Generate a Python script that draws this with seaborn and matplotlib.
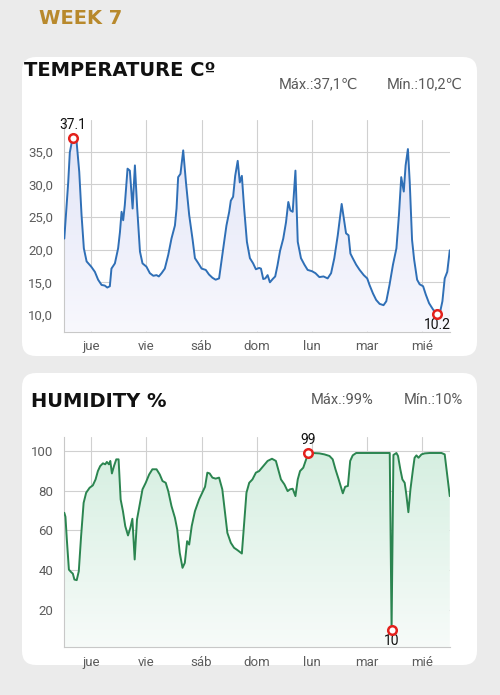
import numpy as np
import seaborn as sns
import matplotlib.pyplot as plt
import matplotlib.colors as mcolors
from matplotlib.patches import FancyBboxPatch, Polygon

# hours counted from thursday 00:00
temp_hours = [-11.7, -11, -10, -9.3, -8.1, -7.3, -6.4, -5.2, -4.2, -3.2, -2, 0, 1.6, 3, 4.5, 5.9, 7, 8.1,
              8.8, 10.3, 11.7, 12.5, 13.2, 13.9, 14.6, 15.8, 16.8, 18, 19, 20, 21.2, 22.3, 24, 25.5, 27,
              28.4, 29.4, 30.6, 32, 33.5, 34.9, 36.4, 37.1, 37.8, 38.8, 40, 41.2, 42.6, 44.1, 45.1, 46.6,
              48, 49.8, 51.2, 52.7, 54.1, 55.6, 56.8, 57.8, 58.8, 60, 60.7, 61.7, 62.6, 63.7, 64.6, 65.5,
              66.5, 67.7, 69, 70.4, 71.6, 73, 73.8, 74.8, 75.7, 76.7, 77.7, 78.9, 80, 81, 82.1, 83.5, 84.7,
              85.7, 86.6, 87.6, 88.8, 89.8, 91.2, 92.7, 94.1, 96, 97.5, 99.2, 101, 102.8, 104.3, 105.7,
              107.2, 108.9, 110.1, 110.8, 111.9, 112.7, 113.7, 115.2, 116.7, 118.5, 120, 121, 122.5,
              123.9, 125.4, 127.1, 128.3, 129.7, 131.2, 132.7, 133.8, 134.8, 135.9, 136.7, 137.7, 138.5,
              139.5, 140.4, 141.7, 142.8, 144.3, 145.5, 146.9, 148.7, 150.4, 151.6, 152.7, 153.7, 154.8,
              155.9]
temp_values = [21.7, 25.3, 30.3, 34.9, 37.1, 37.0, 36.7, 31.9, 25.3, 20.2, 18.2, 17.4, 16.6, 15.4, 14.6,
               14.5, 14.2, 14.4, 17.1, 17.9, 20.2, 22.7, 25.8, 24.5, 26.8, 32.4, 32.1, 26.3, 32.9, 26.3,
               19.7, 17.9, 17.4, 16.4, 16.0, 16.1, 15.9, 16.4, 17.1, 19.2, 21.7, 23.7, 26.3, 31.1, 31.6,
               35.2, 30.3, 25.3, 21.5, 18.7, 17.9, 17.1, 16.9, 16.2, 15.7, 15.4, 15.6, 18.7, 21.2, 23.7,
               25.8, 27.5, 28.1, 31.3, 33.6, 30.3, 31.3, 26.3, 21.2, 18.7, 17.9, 17.0, 17.2, 17.1, 15.5,
               15.6, 16.1, 15.0, 15.5, 15.9, 17.6, 19.8, 21.7, 24.2, 27.3, 26.0, 25.8, 32.1, 21.2, 18.7,
               17.7, 16.9, 16.7, 16.4, 15.8, 15.9, 15.6, 16.4, 18.7, 22.2, 27.0, 24.2, 22.5, 22.2, 19.4,
               18.7, 17.7, 16.9, 16.1, 15.6, 14.6, 13.3, 12.3, 11.7, 11.5, 12.1, 14.6, 17.7, 20.2, 25.3,
               31.1, 28.9, 32.9, 35.4, 30.3, 21.5, 18.5, 15.4, 14.7, 14.4, 13.1, 11.8, 10.8, 10.2, 10.3,
               12.1, 15.6, 16.6, 19.9]

hum_hours = [-11.7, -11.2, -10.6, -9.7, -8.7, -8.0, -7.3, -6.3, -5.4, -4.4, -3.3, -2.2, -0.7, 0.7, 1.9,
             2.9, 3.9, 5.1, 6.1, 6.8, 7.7, 8.3, 9.0, 9.9, 10.9, 11.9, 12.8, 13.8, 14.8, 16.0, 17.0, 17.9,
             18.9, 19.9, 21.1, 22.3, 23.7, 25.2, 26.6, 28.4, 29.8, 31.0, 32.4, 33.5, 34.9, 36.4, 37.4,
             38.5, 39.7, 40.7, 41.7, 42.6, 43.7, 45.1, 46.9, 48.3, 49.5, 50.5, 51.5, 52.7, 54.1, 55.6,
             57.0, 58.2, 59.2, 60.7, 62.1, 63.6, 65.5, 66.5, 67.5, 68.7, 70.1, 71.6, 73.0, 74.8, 76.7,
             78.6, 80.3, 81.5, 82.5, 84.0, 85.4, 86.4, 87.6, 88.8, 89.8, 90.8, 92.2, 93.7, 94.4, 96.3,
             99.2, 101.4, 103.6, 105.0, 106.2, 107.6, 108.7, 109.4, 110.4, 111.6, 112.6, 113.7, 115.2,
             121.0, 129.8, 130.6, 131.4, 132.7, 133.4, 134.4, 135.3, 136.3, 137.0, 137.9, 138.8, 139.9,
             140.6, 141.4, 142.3, 143.6, 145.0, 147.2, 152.3, 153.7, 154.5, 155.9]
hum_values = [68.9, 66.9, 55.5, 40.3, 39.0, 38.3, 35.3, 35.0, 39.5, 57.1, 73.9, 79.0, 81.5, 82.7, 85.7,
              89.9, 92.4, 93.8, 93.3, 94.5, 93.3, 95.0, 88.7, 92.4, 95.8, 95.8, 75.6, 69.7, 62.2, 57.5,
              61.3, 65.9, 45.4, 65.5, 73.1, 80.7, 84.0, 88.2, 90.8, 90.8, 88.2, 84.9, 84.0, 79.8, 72.3,
              66.4, 60.5, 48.7, 41.2, 43.7, 54.6, 52.9, 62.2, 69.7, 75.6, 79.0, 82.0, 89.1, 88.7, 86.6,
              86.1, 86.6, 80.7, 68.9, 58.8, 53.8, 51.3, 50.1, 48.4, 63.9, 79.0, 84.0, 85.7, 89.1, 89.9,
              92.4, 95.0, 96.1, 95.0, 89.9, 85.7, 83.2, 79.8, 80.7, 81.0, 77.3, 85.7, 89.9, 91.6, 96.6,
              99, 99, 98.8, 98.3, 97.5, 95.8, 90.8, 85.7, 81.5, 78.7, 82.0, 82.4, 95.0, 97.8, 99, 99, 99,
              10, 98, 99, 97.5, 90.8, 85.7, 84.0, 78.2, 69.2, 80.7, 90.8, 96.6, 97.8, 96.6, 98.3, 98.8,
              99, 99, 98.3, 90.8, 77.3]

day_labels = ['jue', 'vie', 'sáb', 'dom', 'lun', 'mar', 'mié']
temp_ticks = [10, 15, 20, 25, 30, 35]
hum_ticks = [20, 40, 60, 80, 100]

W, H = 500, 695
sns.set_theme(style='white')
plt.rcParams['font.family'] = ['Roboto', 'DejaVu Sans']

fig = plt.figure(figsize=(W / 100, H / 100), dpi=100)
fig.patch.set_facecolor('#ebebeb')


def px(x, y):
    return x / W, 1 - y / H


# white cards behind the axes
for (x0, y0, x1, y1) in [(22, 57, 477, 356), (22, 373, 477, 665)]:
    card = FancyBboxPatch((x0, H - y1), x1 - x0, y1 - y0, boxstyle='round,pad=0,rounding_size=14',
                          transform=None, facecolor='white', edgecolor='none', zorder=-10)
    fig.patches.append(card)


def gradient_fill(ax, x, y, top, bottom, y0):
    ymax = max(y)
    ct = np.array(mcolors.to_rgba(top))
    cb = np.array(mcolors.to_rgba(bottom))
    t = np.linspace(0, 1, 200)[:, None]
    img = (cb + (ct - cb) * t)[:, None, :]
    im = ax.imshow(img, extent=[x[0], x[-1], y0, ymax], origin='lower', aspect='auto', zorder=1)
    verts = np.vstack([[x[0], y0], np.column_stack([x, y]), [x[-1], y0]])
    clip = Polygon(verts, closed=True, facecolor='none', edgecolor='none')
    ax.add_patch(clip)
    im.set_clip_path(clip)


def draw_panel(rect, hours, values, ylim, yticks, fmt, line_color, top_c, bot_c, lab_fmt):
    ax = fig.add_axes(rect, zorder=2)
    ax.set_facecolor('none')
    gradient_fill(ax, hours, values, top_c, bot_c, ylim[0])
    sns.lineplot(x=hours, y=values, ax=ax, color=line_color, lw=1.4, zorder=3)
    i_max = int(np.argmax(values))
    i_min = int(np.argmin(values))
    sns.scatterplot(x=[hours[i_max], hours[i_min]], y=[values[i_max], values[i_min]], ax=ax, s=38,
                    color='white', edgecolor='#e3211c', linewidth=1.8, zorder=5)
    ax.annotate(lab_fmt(values[i_max]), (hours[i_max], values[i_max]), xytext=(0, 9),
                textcoords='offset points', ha='center', va='center', fontsize=10, color='#111')
    ax.annotate(lab_fmt(values[i_min]), (hours[i_min], values[i_min]), xytext=(0, -8),
                textcoords='offset points', ha='center', va='center', fontsize=10, color='#111')
    ax.set_xlim(-11.7, 156)
    ax.set_ylim(*ylim)
    ax.set_xticks([24 * i for i in range(len(day_labels))])
    ax.set_xticklabels(day_labels)
    ax.set_yticks(yticks)
    ax.set_yticklabels([fmt(v) for v in yticks])
    ax.grid(True, color='#d0d0d0', lw=0.8)
    ax.set_axisbelow(True)
    for s in ['top', 'right']:
        ax.spines[s].set_visible(False)
    for s in ['left', 'bottom']:
        ax.spines[s].set_color('#c8c8c8')
        ax.spines[s].set_linewidth(0.8)
    ax.tick_params(length=0, colors='#5c5c5c', labelsize=9.5)
    ax.tick_params(axis='y', pad=8)
    ax.tick_params(axis='x', pad=6)
    ax.set_xlabel('')
    ax.set_ylabel('')
    return ax


draw_panel([64.3 / W, 1 - 331.7 / H, (450 - 64.3) / W, (331.7 - 120) / H], temp_hours, temp_values,
           (7.44, 39.85), temp_ticks, lambda v: f'{v:.1f}'.replace('.', ','), '#2f6fb6',
           '#e2e5f7', '#f8f8fd', lambda v: f'{v:.1f}')
draw_panel([64.3 / W, 1 - 647.3 / H, (450 - 64.3) / W, (647.3 - 436.7) / H], hum_hours, hum_values,
           (1.2, 107.2), hum_ticks, lambda v: f'{v}', '#2b8550',
           '#d6efe1', '#f7fbf9', lambda v: f'{v:.0f}')

# titles
fig.text(*px(39, 18), 'WEEK 7', va='center', ha='left', fontsize=14, fontweight='bold',
         color='#b8892c', family='DejaVu Sans')
fig.text(*px(24, 70.5), 'TEMPERATURE Cº', va='center', ha='left', fontsize=14, fontweight='heavy',
         color='#111111', family='DejaVu Sans')
fig.text(*px(31, 401.7), 'HUMIDITY %', va='center', ha='left', fontsize=14, fontweight='heavy',
         color='#111111', family='DejaVu Sans')

stat_kw = dict(va='center', ha='right', fontsize=10.5, color='#5a5a5a')
fig.text(*px(358, 84), 'Máx.:37,1℃', **stat_kw)
fig.text(*px(463, 84), 'Mín.:10,2℃', **stat_kw)
fig.text(*px(373, 400), 'Máx.:99%', **stat_kw)
fig.text(*px(463, 400), 'Mín.:10%', **stat_kw)

fig.savefig('out.png', dpi=100, facecolor=fig.get_facecolor())
